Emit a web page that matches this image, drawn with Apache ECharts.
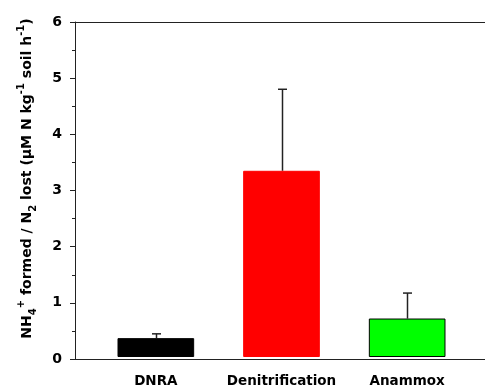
<!DOCTYPE html>
<html><head><meta charset="utf-8">
<script src="https://cdn.jsdelivr.net/npm/echarts@6/dist/echarts.min.js"></script>
<style>html,body{margin:0;padding:0;background:#fff}#c{width:485px;height:388px}</style>
</head><body><div id="c"></div>
<script>
const categories = ['DNRA', 'Denitrification', 'Anammox'];
const values = [0.338, 3.335, 0.689];
const errorTops = [0.415, 4.795, 1.145];
const barColors = ['#000000', '#ff0000', '#00ff00'];
const yTicks = [0, 1, 2, 3, 4, 5, 6];

const chart = echarts.init(document.getElementById('c'));
const font = 'DejaVu Sans, sans-serif';
chart.setOption({
  animation: false,
  grid: [
    {left: 75, right: 0, top: 22, bottom: 29},
    {left: 93, right: 15, top: 22, bottom: 29}
  ],
  xAxis: [
    {gridIndex: 0, type: 'value', min: 0, max: 1, position: 'bottom',
     axisLine: {show: true, lineStyle: {color: '#222', width: 1}}, axisTick: {show: false},
     axisLabel: {show: false}, splitLine: {show: false}},
    {gridIndex: 0, type: 'value', min: 0, max: 1, position: 'top',
     axisLine: {show: true, lineStyle: {color: '#222', width: 1}}, axisTick: {show: false},
     axisLabel: {show: false}, splitLine: {show: false}},
    {gridIndex: 1, type: 'category', data: categories,
     axisLine: {show: false}, axisTick: {show: false}, splitLine: {show: false},
     axisLabel: {interval: 0, hideOverlap: false, fontFamily: font, fontWeight: 'bold', fontSize: 13.5, color: '#000', margin: 17}}
  ],
  yAxis: [
    {gridIndex: 0, type: 'value', min: yTicks[0], max: yTicks[yTicks.length - 1], interval: 1,
     axisLine: {show: true, lineStyle: {color: '#222', width: 1}},
     axisTick: {show: true, inside: false, length: 5, lineStyle: {color: '#222'}},
     minorTick: {show: true, splitNumber: 2, length: 3, lineStyle: {color: '#222'}},
     splitLine: {show: false},
     axisLabel: {fontFamily: font, fontWeight: 'bold', fontSize: 14, color: '#000', margin: 13},
     name: '{b|NH}{sub|4}{sup|+}{b| formed / N}{sub|2}{b| lost (µM N kg}{sup|-1}{b| soil h}{sup|-1}{b|)}',
     nameLocation: 'middle', nameRotate: 90, nameGap: 37,
     nameTextStyle: {
       padding: [0, 0, 0, 24],
       rich: {
         b: {fontFamily: font, fontWeight: 'bold', fontSize: 14, color: '#000', lineHeight: 22, verticalAlign: 'middle'},
         sub: {fontFamily: font, fontWeight: 'bold', fontSize: 10, color: '#000', lineHeight: 10, verticalAlign: 'bottom'},
         sup: {fontFamily: font, fontWeight: 'bold', fontSize: 10, color: '#000', lineHeight: 10, verticalAlign: 'top'}
       }
     }},
    {gridIndex: 1, type: 'value', min: yTicks[0], max: yTicks[yTicks.length - 1], show: false}
  ],
  series: [
    {type: 'bar', xAxisIndex: 2, yAxisIndex: 1, barWidth: '61%',
     data: values.map((v, i) => ({value: v, itemStyle: {color: barColors[i], borderColor: i === 1 ? '#ff0000' : '#000', borderWidth: 1}}))},
    {type: 'custom', xAxisIndex: 2, yAxisIndex: 1,
     data: values.map((v, i) => [i, v, errorTops[i]]),
     renderItem: function (params, api) {
       const base = api.coord([api.value(0), api.value(1)]);
       const top = api.coord([api.value(0), api.value(2)]);
       const x = Math.round(base[0]) + 0.5;
       return {type: 'group', children: [
         {type: 'line', shape: {x1: x, y1: base[1], x2: x, y2: top[1]}, style: {stroke: '#222', lineWidth: 1.5}},
         {type: 'line', shape: {x1: x - 4.5, y1: top[1], x2: x + 4.5, y2: top[1]}, style: {stroke: '#222', lineWidth: 1.5}}
       ]};
     }}
  ]
});
</script></body></html>
